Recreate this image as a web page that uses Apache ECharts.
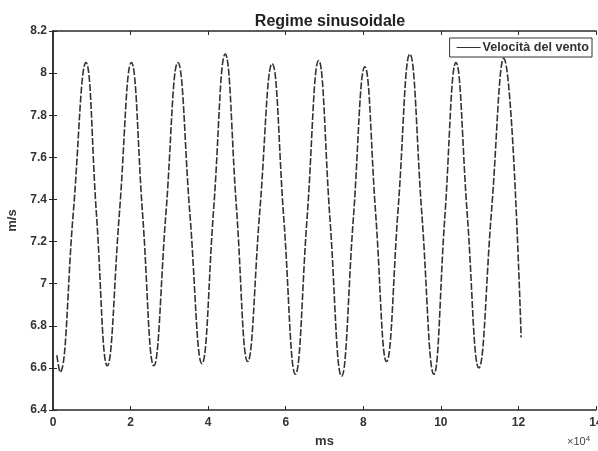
<!DOCTYPE html>
<html>
<head>
<meta charset="utf-8">
<script src="https://cdn.jsdelivr.net/npm/echarts@6/dist/echarts.min.js"></script>
<style>html,body{margin:0;padding:0;background:#fff;}#c{width:598px;height:451px;}</style>
</head>
<body>
<div id="c"></div>
<script>
// time in ms (axis shows x 10^4)
var timesMs = [1000, 1800, 5200, 8500, 11200, 14000, 17100, 20200, 23100, 26000, 29100, 32200, 35300, 38400, 41400, 44400, 47300, 50200, 53300, 56500, 59500, 62500, 65500, 68500, 71400, 74400, 77400, 80400, 83200, 86000, 89000, 92000, 95100, 98200, 101000, 103900, 106800, 109800, 113000, 116200, 120700];
var speeds  = [6.66, 6.58, 7.33, 8.05, 7.33, 6.61, 7.33, 8.05, 7.33, 6.61, 7.33, 8.05, 7.33, 6.62, 7.35, 8.09, 7.36, 6.63, 7.34, 8.045, 7.31, 6.57, 7.31, 8.06, 7.31, 6.56, 7.30, 8.03, 7.33, 6.63, 7.36, 8.09, 7.33, 6.57, 7.31, 8.05, 7.33, 6.60, 7.33, 8.07, 6.745];
var seriesName = 'Velocità del vento';
var xTicks = [0, 20000, 40000, 60000, 80000, 100000, 120000, 140000];
var yRange = [6.4, 8.2];

var data = timesMs.map(function (t, i) { return [t, speeds[i]]; });
var chart = echarts.init(document.getElementById('c'));
var axisCol = '#2a2a2a';
var font = 'Liberation Sans, Arial, sans-serif';
chart.setOption({
  animation: false,
  backgroundColor: '#fff',
  title: {
    text: 'Regime sinusoidale', left: 325, top: 9, textAlign: 'center',
    textStyle: { fontFamily: font, fontSize: 16, fontWeight: 'bold', color: '#222' }
  },
  legend: {
    right: 6, top: 38, itemWidth: 24, itemHeight: 10, itemGap: 4, padding: [3, 3, 3, 7],
    borderColor: '#333', borderWidth: 1, backgroundColor: '#fff',
    textStyle: { fontFamily: font, fontSize: 12.6, fontWeight: 'bold', color: '#333', padding: [0, 0, 0, -3] },
    data: [{ name: seriesName, icon: 'path://M0,5L24,5L24,6L0,6Z' }]
  },
  grid: { left: 53, right: 2, top: 31, bottom: 41, containLabel: false, outerBoundsMode: 'none' },
  xAxis: [{
    type: 'value', min: xTicks[0], max: xTicks[xTicks.length - 1], interval: 20000,
    name: 'ms', nameLocation: 'middle', nameGap: 25,
    nameTextStyle: { fontFamily: font, fontSize: 13, fontWeight: 'bold', color: '#333' },
    axisLine: { lineStyle: { color: axisCol, width: 1.5 } },
    axisTick: { inside: true, length: 4, lineStyle: { color: axisCol } },
    axisLabel: { fontFamily: font, fontSize: 12, fontWeight: 'bold', color: '#333', margin: 7, formatter: function (v) { return String(v / 10000); } },
    splitLine: { show: false }
  }, {
    type: 'value', position: 'top', min: xTicks[0], max: xTicks[xTicks.length - 1], interval: 20000,
    axisLine: { lineStyle: { color: axisCol, width: 1.5 } },
    axisTick: { inside: true, length: 4, lineStyle: { color: axisCol } },
    axisLabel: { show: false }, splitLine: { show: false }
  }],
  yAxis: [{
    type: 'value', min: yRange[0], max: yRange[1], interval: 0.2,
    name: 'm/s', nameLocation: 'middle', nameGap: 34, nameRotate: 90,
    nameTextStyle: { fontFamily: font, fontSize: 13, fontWeight: 'bold', color: '#333' },
    axisLine: { show: true, lineStyle: { color: axisCol, width: 1.5 } },
    axisTick: { show: true, inside: true, length: 4, lineStyle: { color: axisCol } },
    axisLabel: { fontFamily: font, fontSize: 12, fontWeight: 'bold', color: '#333', margin: 6,
      formatter: function (v) { return String(Math.round(v * 10) / 10); } },
    splitLine: { show: false }
  }, {
    type: 'value', position: 'right', min: yRange[0], max: yRange[1], interval: 0.2,
    axisLine: { show: true, lineStyle: { color: axisCol, width: 1.5 } },
    axisTick: { show: true, inside: true, length: 4, lineStyle: { color: axisCol } },
    axisLabel: { show: false }, splitLine: { show: false }
  }],
  graphic: [{
    type: 'text', left: 567, top: 435,
    style: { text: '×10{s|4}', font: '11px ' + font, fill: '#444',
      rich: { s: { fontSize: 8, verticalAlign: 'top', padding: [0, 0, 6, 0], fill: '#444' } } }
  }],
  series: [{
    name: seriesName, type: 'line', data: data, smooth: 0.45, showSymbol: false,
    lineStyle: { color: '#333', width: 1.6, type: [7, 2] },
    itemStyle: { color: '#333' }
  }]
});
</script>
</body>
</html>
